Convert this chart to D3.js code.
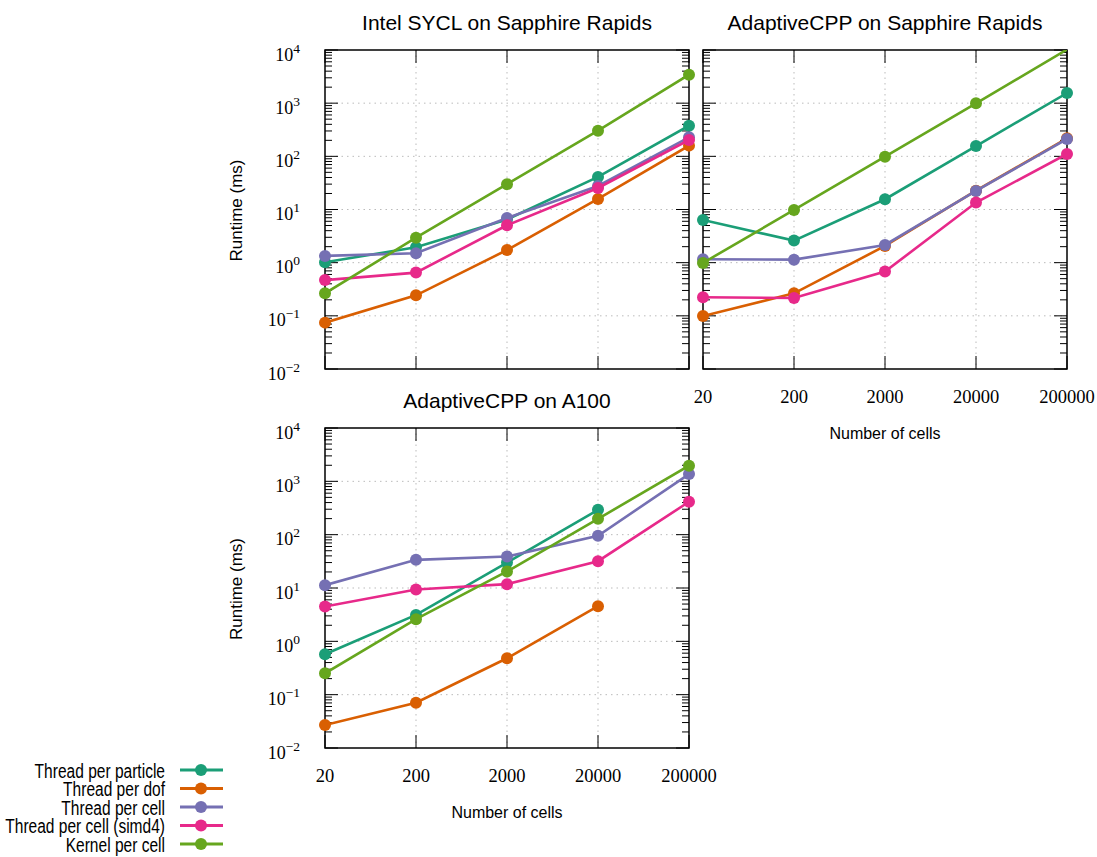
<!DOCTYPE html>
<html>
<head>
<meta charset="utf-8">
<script src="https://cdn.jsdelivr.net/npm/d3@7"></script>
<style>
  body { margin: 0; background: #fff; }
  svg { display: block; }
</style>
</head>
<body>
<script>
const cells = [20, 200, 2000, 20000, 200000];
const seriesNames = ["Thread per particle", "Thread per dof", "Thread per cell", "Thread per cell (simd4)", "Kernel per cell"];
const yMajor = [1e-2, 1e-1, 1, 10, 100, 1000, 10000];
const yExponents = ["−2", "−1", "0", "1", "2", "3", "4"];

// Intel SYCL on Sapphire Rapids
const intelParticle = [1.02, 1.95, 6.5, 41, 377];
const intelDof = [0.0745, 0.243, 1.73, 15.8, 159];
const intelCell = [1.34, 1.5, 6.9, 27.7, 228];
const intelSimd = [0.47, 0.65, 5.05, 25.4, 203];
const intelKernel = [0.265, 2.95, 30, 304, 3430];

// AdaptiveCPP on Sapphire Rapids
const acppSprParticle = [6.35, 2.6, 15.6, 156, 1553];
const acppSprDof = [0.099, 0.265, 2.06, 22.6, 218];
const acppSprCell = [1.16, 1.14, 2.15, 22.3, 212];
const acppSprSimd = [0.223, 0.217, 0.68, 13.5, 111];
const acppSprKernel = [0.99, 9.8, 98.6, 993, 10200];

// AdaptiveCPP on A100
const a100Particle = [0.573, 3.13, 30, 293, null];
const a100Dof = [0.027, 0.0708, 0.482, 4.56, null];
const a100Cell = [11.3, 33.7, 38.9, 95.3, 1368];
const a100Simd = [4.49, 9.35, 11.8, 31.8, 414];
const a100Kernel = [0.252, 2.6, 20.4, 198, 1960];

const colors = ["#1b9e77", "#d95f02", "#7570b3", "#e7298a", "#66a61e"];
const sans = "'Liberation Sans', Arial, Helvetica, sans-serif";
const serif = "'Liberation Serif', 'Times New Roman', serif";

const panels = [
  { title: "Intel SYCL on Sapphire Rapids", x0: 325, x1: 689, y0: 50, y1: 369,
    yTicks: true, xTicks: false, series: [intelParticle, intelDof, intelCell, intelSimd, intelKernel] },
  { title: "AdaptiveCPP on Sapphire Rapids", x0: 703, x1: 1067, y0: 50, y1: 369,
    yTicks: false, xTicks: true, series: [acppSprParticle, acppSprDof, acppSprCell, acppSprSimd, acppSprKernel] },
  { title: "AdaptiveCPP on A100", x0: 325, x1: 689, y0: 428, y1: 748,
    yTicks: true, xTicks: true, series: [a100Particle, a100Dof, a100Cell, a100Simd, a100Kernel] }
];

const svg = d3.select("body").append("svg")
  .attr("width", 1097)
  .attr("height", 857);

const yMinor = [];
for (let d = -2; d < 4; d++) {
  for (let m = 2; m <= 9; m++) yMinor.push(m * Math.pow(10, d));
}

panels.forEach((p, pi) => {
  const x = d3.scaleLog().domain([20, 200000]).range([p.x0, p.x1]);
  const y = d3.scaleLog().domain([1e-2, 1e4]).range([p.y1, p.y0]);
  const g = svg.append("g");

  // grid
  g.selectAll(".gy").data(yMajor.slice(1, -1)).join("line")
    .attr("x1", p.x0).attr("x2", p.x1)
    .attr("y1", d => y(d)).attr("y2", d => y(d))
    .attr("stroke", "#bbb").attr("stroke-width", 1).attr("stroke-dasharray", "1.5,4");
  g.selectAll(".gx").data(cells.slice(1, -1)).join("line")
    .attr("x1", d => x(d)).attr("x2", d => x(d))
    .attr("y1", p.y0).attr("y2", p.y1)
    .attr("stroke", "#bbb").attr("stroke-width", 1).attr("stroke-dasharray", "1.5,4");

  // ticks (inward, mirrored)
  const ticks = g.append("g").attr("stroke", "#000").attr("stroke-width", 1);
  [[p.x0, 1], [p.x1, -1]].forEach(([xx, dir]) => {
    ticks.selectAll(null).data(yMajor).join("line")
      .attr("x1", xx).attr("x2", xx + dir * 13)
      .attr("y1", d => y(d)).attr("y2", d => y(d));
    ticks.selectAll(null).data(yMinor).join("line")
      .attr("x1", xx).attr("x2", xx + dir * 7)
      .attr("y1", d => y(d)).attr("y2", d => y(d));
  });
  [[p.y1, -1], [p.y0, 1]].forEach(([yy, dir]) => {
    ticks.selectAll(null).data(cells).join("line")
      .attr("x1", d => x(d)).attr("x2", d => x(d))
      .attr("y1", yy).attr("y2", yy + dir * 13);
  });

  // frame
  g.append("rect")
    .attr("x", p.x0).attr("y", p.y0)
    .attr("width", p.x1 - p.x0).attr("height", p.y1 - p.y0)
    .attr("fill", "none").attr("stroke", "#000").attr("stroke-width", 1.5);

  // y tick labels
  if (p.yTicks) {
    const lab = g.selectAll(".yl").data(yMajor).join("text")
      .attr("x", p.x0 - 25)
      .attr("y", d => y(d) + 10.5)
      .attr("text-anchor", "end")
      .attr("font-family", serif)
      .attr("font-size", 18)
      .attr("fill", "#000");
    lab.append("tspan").text("10");
    lab.append("tspan")
      .attr("dy", -8)
      .attr("font-size", 13.5)
      .text((d, i) => yExponents[i]);

    g.append("text")
      .attr("transform", `translate(242,${(p.y0 + p.y1) / 2 + 1}) rotate(-90)`)
      .attr("text-anchor", "middle")
      .attr("font-family", sans)
      .attr("font-size", 17)
      .text("Runtime (ms)");
  }

  // x tick labels
  if (p.xTicks) {
    g.selectAll(".xl").data(cells).join("text")
      .attr("x", d => x(d))
      .attr("y", p.y1 + 34)
      .attr("text-anchor", "middle")
      .attr("font-family", serif)
      .attr("font-size", 18.5)
      .text(d => d);

    g.append("text")
      .attr("x", (p.x0 + p.x1) / 2)
      .attr("y", p.y1 + 69.5)
      .attr("text-anchor", "middle")
      .attr("font-family", sans)
      .attr("font-size", 16)
      .text("Number of cells");
  }

  // title
  g.append("text")
    .attr("x", (p.x0 + p.x1) / 2)
    .attr("y", p.y0 - 20.5)
    .attr("text-anchor", "middle")
    .attr("font-family", sans)
    .attr("font-size", 21)
    .text(p.title);

  // data
  const clipId = "clip" + pi;
  svg.append("clipPath").attr("id", clipId)
    .append("rect")
    .attr("x", p.x0).attr("y", p.y0)
    .attr("width", p.x1 - p.x0).attr("height", p.y1 - p.y0);

  const line = d3.line()
    .defined(d => d.v != null)
    .x(d => x(d.c))
    .y(d => y(d.v));

  p.series.forEach((vals, si) => {
    const pts = cells.map((c, i) => ({ c: c, v: vals[i] }));
    const sg = g.append("g");
    sg.append("path")
      .datum(pts)
      .attr("clip-path", `url(#${clipId})`)
      .attr("d", line)
      .attr("fill", "none")
      .attr("stroke", colors[si])
      .attr("stroke-width", 2.6);
    sg.selectAll("circle")
      .data(pts.filter(d => d.v != null && d.v <= 1e4))
      .join("circle")
      .attr("cx", d => x(d.c))
      .attr("cy", d => y(d.v))
      .attr("r", 6)
      .attr("fill", colors[si]);
  });
});

// legend
const legend = svg.append("g");
seriesNames.forEach((name, i) => {
  const row = legend.append("g").attr("transform", `translate(0,${770 + i * 18.5})`);
  row.append("line")
    .attr("x1", 180).attr("x2", 223)
    .attr("y1", 0).attr("y2", 0)
    .attr("stroke", colors[i]).attr("stroke-width", 3);
  row.append("circle")
    .attr("cx", 201).attr("cy", 0).attr("r", 6)
    .attr("fill", colors[i]);
  row.append("text")
    .attr("transform", "translate(165,7.5) scale(0.74,1)")
    .attr("text-anchor", "end")
    .attr("font-family", sans)
    .attr("font-size", 21)
    .text(name);
});
</script>
</body>
</html>
